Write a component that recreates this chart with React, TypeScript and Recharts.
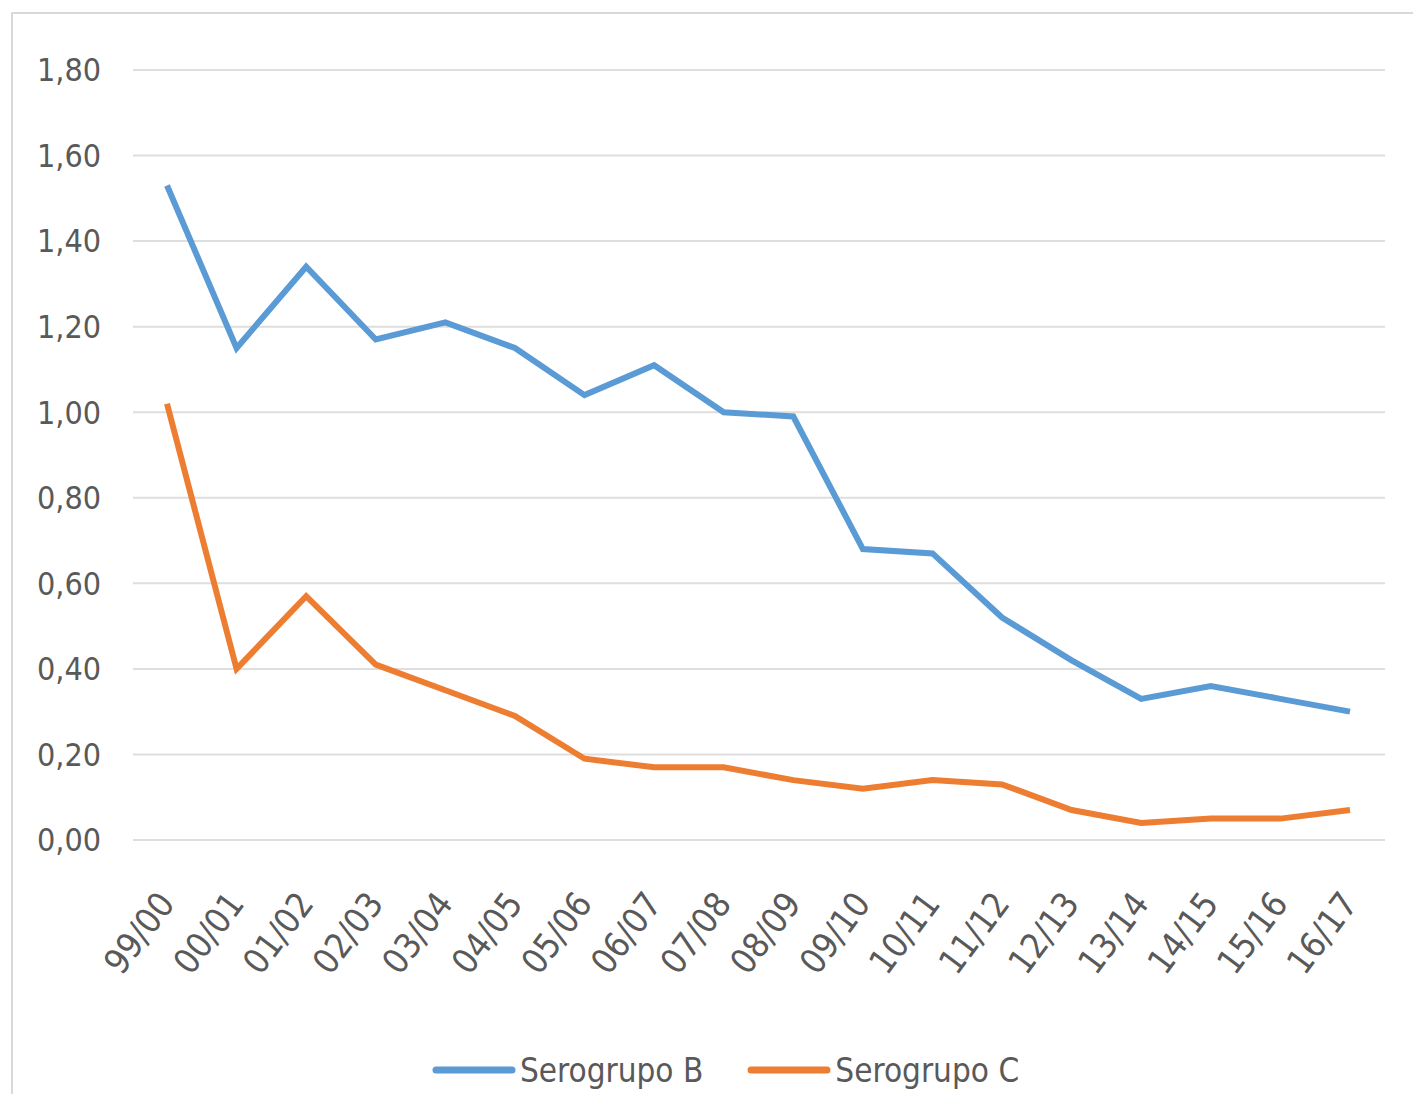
import { LineChart, Line, XAxis, YAxis, CartesianGrid, Legend } from "recharts";

const seasons = [
  "99/00", "00/01", "01/02", "02/03", "03/04", "04/05", "05/06", "06/07", "07/08",
  "08/09", "09/10", "10/11", "11/12", "12/13", "13/14", "14/15", "15/16", "16/17",
];

const serogrupoB = [
  1.53, 1.15, 1.34, 1.17, 1.21, 1.15, 1.04, 1.11, 1.0,
  0.99, 0.68, 0.67, 0.52, 0.42, 0.33, 0.36, 0.33, 0.3,
];

const serogrupoC = [
  1.02, 0.4, 0.57, 0.41, 0.35, 0.29, 0.19, 0.17, 0.17,
  0.14, 0.12, 0.14, 0.13, 0.07, 0.04, 0.05, 0.05, 0.07,
];

const yTicks = [0, 0.2, 0.4, 0.6, 0.8, 1.0, 1.2, 1.4, 1.6, 1.8];

const data = seasons.map((season, i) => ({
  season,
  b: serogrupoB[i],
  c: serogrupoC[i],
}));

const FONT = "'Liberation Sans Narrow', 'DejaVu Sans Condensed', sans-serif";
const TEXT = "#595959";
const BLUE = "#5B9BD5";
const ORANGE = "#ED7D31";

const fmt = (v: number) => v.toFixed(2).replace(".", ",");

const SeasonTick = (props: any) => {
  const { x, y, payload } = props;
  return (
    <g transform={`translate(${x + 9},${y + 56})`}>
      <text
        x={0}
        y={0}
        textAnchor="end"
        transform="rotate(-53)"
        fontSize={35}
        fontFamily={FONT}
        fill={TEXT}
      >
        {payload.value}
      </text>
    </g>
  );
};

const LegendContent = () => {
  const items = [
    { label: "Serogrupo B", color: BLUE },
    { label: "Serogrupo C", color: ORANGE },
  ];
  return (
    <div
      style={{
        display: "flex",
        justifyContent: "center",
        alignItems: "center",
        gap: 44,
        height: 44,
        paddingLeft: 66,
        fontFamily: FONT,
        fontSize: 33,
        color: TEXT,
      }}
    >
      {items.map((it) => (
        <div key={it.label} style={{ display: "flex", alignItems: "center", gap: 4 }}>
          <svg width={84} height={10}>
            <line x1={4} y1={5} x2={80} y2={5} stroke={it.color} strokeWidth={7} strokeLinecap="round" />
          </svg>
          <span>{it.label}</span>
        </div>
      ))}
    </div>
  );
};

export default function App() {
  return (
    <div
      style={{
        position: "absolute",
        left: 0,
        top: 0,
        width: 1413,
        height: 1094,
        overflow: "hidden",
        background: "#fff",
      }}
    >
      <div
        style={{
          position: "absolute",
          left: 11,
          top: 12,
          width: 1420,
          height: 1100,
          border: "2px solid #d9d9d9",
        }}
      />
      <LineChart
        width={1413}
        height={1094}
        data={data}
        margin={{ top: 70, right: 28, left: 0, bottom: 2 }}
        style={{ position: "absolute", left: 0, top: 0 }}
      >
        <CartesianGrid vertical={false} stroke="#dedede" strokeWidth={2} />
        <XAxis
          dataKey="season"
          axisLine={false}
          tickLine={false}
          padding={{ left: 34, right: 35 }}
          interval={0}
          height={208}
          tick={<SeasonTick />}
        />
        <YAxis
          width={133}
          domain={[0, 1.8]}
          ticks={yTicks}
          tickFormatter={fmt}
          axisLine={false}
          tickLine={false}
          tickMargin={26}
          tick={{ fontSize: 32, fontFamily: FONT, fill: TEXT }}
        />
        <Legend verticalAlign="bottom" content={<LegendContent />} />
        <Line
          type="linear"
          dataKey="b"
          name="Serogrupo B"
          stroke={BLUE}
          strokeWidth={6}
          dot={false}
          isAnimationActive={false}
        />
        <Line
          type="linear"
          dataKey="c"
          name="Serogrupo C"
          stroke={ORANGE}
          strokeWidth={6}
          dot={false}
          isAnimationActive={false}
        />
      </LineChart>
    </div>
  );
}
